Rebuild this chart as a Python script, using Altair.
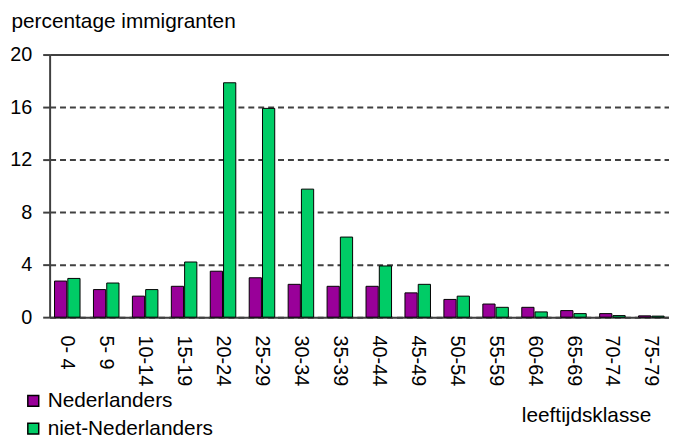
import altair as alt
import pandas as pd

ages = ["0- 4", "5- 9", "10-14", "15-19", "20-24", "25-29", "30-34", "35-39",
        "40-44", "45-49", "50-54", "55-59", "60-64", "65-69", "70-74", "75-79"]
nederlanders = [2.75, 2.1, 1.6, 2.35, 3.5, 3.0, 2.5, 2.35,
                2.35, 1.85, 1.35, 1.0, 0.75, 0.5, 0.27, 0.1]
niet_nederlanders = [2.95, 2.6, 2.1, 4.2, 17.85, 15.9, 9.75, 6.1,
                     3.9, 2.5, 1.6, 0.75, 0.4, 0.27, 0.12, 0.08]
series = ["Nederlanders", "niet-Nederlanders"]
colors = ["#990099", "#00CC66"]
y_ticks = [0, 4, 8, 12, 16, 20]

rows = []
for a, v in zip(ages, nederlanders):
    rows.append({"klasse": a, "groep": series[0], "pct": v})
for a, v in zip(ages, niet_nederlanders):
    rows.append({"klasse": a, "groep": series[1], "pct": v})
df = pd.DataFrame(rows)

FONT = "Liberation Sans, Arial, sans-serif"

bars = alt.Chart(df).mark_bar(stroke="black", strokeWidth=1).encode(
    x=alt.X("klasse:N", sort=ages,
            scale=alt.Scale(paddingInner=0.345, paddingOuter=0.126),
            axis=alt.Axis(title="leeftijdsklasse", labelAngle=90, labelAlign="left",
                          labelBaseline="middle", ticks=False, labelPadding=18,
                          labelFontSize=20, labelColor="black",
                          domainColor="#404040", domainWidth=2,
                          titleFontSize=21, titleFontWeight="normal", titleColor="black",
                          titleX=476, titleY=105, titleAlign="left",
                          titleBaseline="alphabetic", titleAnchor="start")),
    xOffset=alt.XOffset("groep:N", sort=series, scale=alt.Scale(paddingInner=0.08)),
    y=alt.Y("pct:Q", scale=alt.Scale(domain=[0, 20], nice=False),
            axis=alt.Axis(title="percentage immigranten", values=y_ticks,
                          tickSize=7, tickColor="#404040", tickWidth=2,
                          labelFontSize=20, labelColor="black", labelPadding=11,
                          domainColor="#404040", domainWidth=2,
                          grid=True, gridColor="#404040", gridWidth=2,
                          gridDash={"condition": {"test": "datum.value === 20", "value": []},
                                    "value": [6, 4]},
                          titleAngle=0, titleX=-39, titleY=-27, titleAlign="left",
                          titleBaseline="alphabetic", titleFontSize=21,
                          titleFontWeight="normal", titleColor="black")),
    fill=alt.Fill("groep:N", sort=series,
                  scale=alt.Scale(domain=series, range=colors),
                  legend=alt.Legend(title=None, orient="none", legendX=-27, legendY=339,
                                    padding=0,
                                    symbolType="square", symbolSize=121,
                                    symbolStrokeColor="black", symbolStrokeWidth=1.5,
                                    labelFontSize=21, labelColor="black", labelLimit=400,
                                    labelOffset=4, rowPadding=6)),
)

chart = bars.properties(
    width=625, height=265,
    autosize=alt.AutoSizeParams(type="none"),
    padding={"left": 42, "top": 45, "right": 0, "bottom": 124},
).configure(font=FONT).configure_view(stroke=None)

chart.save("out.html", embed_options={"renderer": "svg", "actions": False})
